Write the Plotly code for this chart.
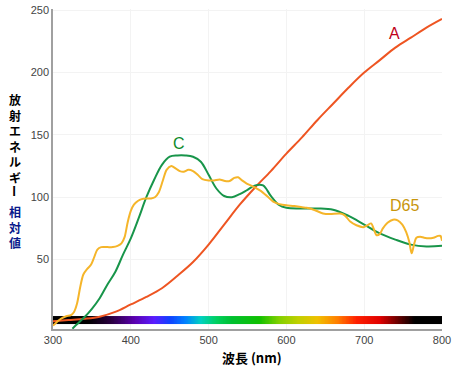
import numpy as np
import plotly.graph_objects as go

# ---------------- data ----------------
A_NM = [300, 320, 340, 360, 380, 400, 420, 440, 460, 480, 500, 520, 540, 560, 580,
        600, 620, 640, 660, 680, 700, 720, 740, 760, 780, 800]
A_VAL = [0.5, 1.5, 2.5, 4.2, 8, 14, 20, 27, 37, 48, 62, 78, 94, 108, 121,
         135, 148, 162, 175, 188, 200, 210, 220, 228, 236, 243]

C_NM = [325, 330, 340, 350, 360, 370, 380, 390, 400, 410, 420, 430, 440, 450, 460,
        470, 480, 490, 500, 510, 520, 530, 540, 550, 560, 570, 580, 590, 600, 620,
        640, 660, 680, 700, 720, 740, 760, 780, 800]
C_VAL = [-5.5, -2.3, 3.5, 10.5, 19, 30, 40, 54, 67, 83, 100, 114, 126, 132.5, 133.5,
         133.5, 132.5, 128.5, 118, 107, 101, 100, 102.5, 106, 109.5, 109.5, 101, 94, 91.5, 91,
         91, 90, 85, 78, 71, 66, 62, 60.5, 61]

D65_NM = [300, 305, 310, 317, 323, 327, 331, 335, 339, 344, 349, 353, 357, 362, 370,
          377, 383, 388, 392, 396, 400, 404, 409, 414, 420, 426, 431, 436, 441, 446, 452,
          458, 463, 468, 474, 480, 486, 492, 500, 507, 514, 521, 527, 533, 538, 543,
          549, 556, 566, 575, 583, 591, 600, 610, 620, 626, 635, 647, 656, 669, 675,
          682, 690, 699, 704, 709, 712, 716, 720, 724, 730, 737, 743, 749, 754, 758,
          761, 764, 767, 772, 777, 783, 789, 795, 798, 800]
D65_VAL = [-3, 0, 2.5, 4.5, 5.5, 8, 15, 28, 38, 42.5, 46, 52, 58, 60, 60,
           60, 61, 63, 68, 80, 89, 94, 97, 98.5, 99, 99, 100, 104, 113, 122, 125,
           123, 121, 120.5, 122, 121, 118, 114.5, 113.5, 113.5, 114.3, 113, 113, 115.5, 116, 113.5,
           111, 109, 105.5, 101, 96.5, 94.5, 93.5, 93, 92, 91.5, 90, 87, 86.5, 87, 85.5,
           80.5, 77.5, 76, 77.5, 79, 75, 69.5, 70.5, 75, 79.5, 82, 81.5, 78, 72, 64,
           55, 62, 67.5, 68.3, 67.5, 67, 67.5, 69, 69, 65]

X_TICKS = [300, 400, 500, 600, 700, 800]
Y_TICKS = [50, 100, 150, 200, 250]

SERIES_LABELS = ["A", "C", "D65"]
LABEL_POS = [(739, 231), (462, 143.5), (752, 93)]

Y_TITLE_MAIN = "放射エネルギー"
Y_TITLE_SUB = "相対値"
X_TITLE = "波長 (nm)"

# spectrum colour ramp (wavelength -> colour)
SPEC_NM = [300, 345, 375, 405, 430, 450, 470, 490, 510, 530, 565, 590, 615, 640,
           665, 690, 720, 745, 765, 800]
SPEC_COL = ["#000000", "#000000", "#2a0040", "#5a00b0", "#5a1cff", "#1040ff", "#0080ff",
            "#00d0c0", "#00d060", "#00c030", "#10c000", "#80d000", "#c0d000", "#f0c000",
            "#ff8000", "#ff2000", "#e00000", "#600000", "#000000", "#000000"]

# ---------------- figure ----------------
COL_A = "#ee5522"
COL_C = "#18954a"
COL_D = "#f5b52a"
LBL_COLS = ["#c0001a", "#0e8a2a", "#c8960c"]

fig = go.Figure()

# spectrum bar
edges = np.arange(SPEC_NM[0], SPEC_NM[-1] + 1, 1)
mids = (edges[:-1] + edges[1:]) / 2
cs = [[(n - SPEC_NM[0]) / (SPEC_NM[-1] - SPEC_NM[0]), c] for n, c in zip(SPEC_NM, SPEC_COL)]
fig.add_trace(go.Heatmap(x=edges, y=[-1.8, 4.7], z=[mids], colorscale=cs,
                         zmin=SPEC_NM[0], zmax=SPEC_NM[-1], showscale=False,
                         hoverinfo="skip"))

fig.add_trace(go.Scatter(x=A_NM, y=A_VAL, mode="lines", name="A",
                         line=dict(color=COL_A, width=2, shape="spline", smoothing=1)))
fig.add_trace(go.Scatter(x=C_NM, y=C_VAL, mode="lines", name="C",
                         line=dict(color=COL_C, width=2, shape="spline", smoothing=1)))
fig.add_trace(go.Scatter(x=D65_NM, y=D65_VAL, mode="lines", name="D65",
                         line=dict(color=COL_D, width=2, shape="spline", smoothing=0.8)))

for lab, (lx, ly), col in zip(SERIES_LABELS, LABEL_POS, LBL_COLS):
    fig.add_annotation(x=lx, y=ly, text=lab, showarrow=False,
                       xanchor="center", yanchor="middle",
                       font=dict(family="Arial, Liberation Sans", size=16, color=col))

# vertical y-axis title
L, R, T, B = 53, 12, 9, 43
W, H = 454, 372
ph = H - T - B
pw = W - L - R

def px_to_paper(px, py):
    return (px - L) / pw, (H - B - py) / ph

cjk = "Noto Sans CJK JP"
# stacked characters (last char of main title is the long-vowel mark, drawn rotated)
main_stack = "<br>".join(Y_TITLE_MAIN[:-1])
xp, yp = px_to_paper(15, 138)
fig.add_annotation(x=xp, y=yp, xref="paper", yref="paper", text="<b>%s</b>" % main_stack,
                   showarrow=False, xanchor="center", yanchor="middle", borderpad=0,
                   font=dict(family=cjk, size=12, color="#000000"))
xp, yp = px_to_paper(15, 191)
fig.add_annotation(x=xp, y=yp, xref="paper", yref="paper", text="<b>%s</b>" % Y_TITLE_MAIN[-1],
                   showarrow=False, textangle=90, xanchor="center", yanchor="middle",
                   borderpad=0, font=dict(family=cjk, size=12, color="#000000"))
sub_stack = "<br>".join(Y_TITLE_SUB)
xp, yp = px_to_paper(15, 226.5)
fig.add_annotation(x=xp, y=yp, xref="paper", yref="paper", text="<b>%s</b>" % sub_stack,
                   showarrow=False, xanchor="center", yanchor="middle", borderpad=0,
                   font=dict(family=cjk, size=12, color="#0a1a8c"))

xp, yp = px_to_paper(252, 357)
fig.add_annotation(x=xp, y=yp, xref="paper", yref="paper", text="<b>%s</b>" % X_TITLE,
                   showarrow=False, xanchor="center", yanchor="middle",
                   font=dict(family=cjk, size=13, color="#000000"))

fig.update_layout(
    width=W, height=H,
    margin=dict(l=L, r=R, t=T, b=B, autoexpand=False),
    paper_bgcolor="white", plot_bgcolor="white",
    showlegend=False,
    xaxis=dict(range=[300, 800], tickvals=X_TICKS, showgrid=True, gridcolor="#f3f3f3",
               showline=True, linecolor="#a0a0a0", linewidth=1.5, zeroline=False,
               automargin=False,
               ticks="", tickfont=dict(family="Arial, Liberation Sans", size=11, color="#444444")),
    yaxis=dict(range=[-5.7, 251], tickvals=Y_TICKS, showgrid=True, gridcolor="#f3f3f3",
               showline=True, linecolor="#a0a0a0", linewidth=1.5, zeroline=False,
               automargin=False,
               ticks="", tickfont=dict(family="Arial, Liberation Sans", size=11, color="#444444")),
)

fig.write_html("out.html", config={"displayModeBar": False},
               post_script="document.body.style.margin='0px';document.body.style.overflow='hidden';")
